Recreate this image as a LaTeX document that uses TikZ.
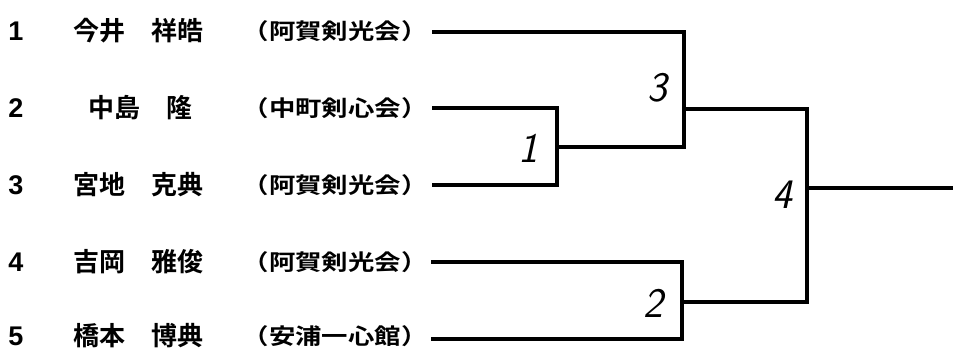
\documentclass[tikz,border=0pt]{standalone}
\usepackage{fontspec}
\setmainfont{Liberation Sans}
\newfontfamily\jpfont{Noto Sans CJK JP}[BoldFont={Noto Sans CJK JP Bold}]
\newfontfamily\clubfont{Noto Sans CJK JP}[BoldFont={Noto Sans CJK JP Bold},FakeStretch=1.2]
\tikzset{
  seed/.style={inner sep=1pt,font=\bfseries\fontsize{27}{27}\selectfont},
  player/.style={inner sep=1pt,font=\jpfont\bfseries\fontsize{26}{26}\selectfont},
  club/.style={inner sep=1pt,font=\clubfont\bfseries\fontsize{22}{22}\selectfont},
  bout/.style={font=\sffamily\itshape\fontsize{42}{42}\selectfont},
  wire/.style={line width=4.3pt}
}
\begin{document}
\begin{tikzpicture}[x=1pt,y=-1pt]
\useasboundingbox (0,0) rectangle (953,349);
% Entry numbers
\node[seed] (n1) at (16,31) {1};
\node[seed] (n2) at (16,108) {2};
\node[seed] (n3) at (16,185) {3};
\node[seed] (n4) at (16,262) {4};
\node[seed] (n5) at (16,336) {5};

% Player names
\node[player] (p1) at (138,31) {今井　祥皓};
\node[player] (p2) at (140,108) {中島　隆};
\node[player] (p3) at (138,185) {宮地　克典};
\node[player] (p4) at (138,262) {吉岡　雅俊};
\node[player] (p5) at (138,336) {橋本　博典};

% Clubs
\node[club] (c1) at (335,31) {（阿賀剣光会）};
\node[club] (c2) at (335,108) {（中町剣心会）};
\node[club] (c3) at (335,185) {（阿賀剣光会）};
\node[club] (c4) at (335,262) {（阿賀剣光会）};
\node[club] (c5) at (335,336) {（安浦一心館）};

% Line ends and bout junctions
\coordinate (e1) at (432,32);
\coordinate (e2) at (432,108);
\coordinate (e3) at (432,185);
\coordinate (e4) at (431,262);
\coordinate (e5) at (431,339);
\coordinate (j1) at (557,147);
\coordinate (j2) at (682,302);
\coordinate (j3) at (684,109);
\coordinate (j4) at (807,188);
\coordinate (win) at (953,188);

% Bracket
\draw[wire] (e2) -| (j1) |- (e3);
\draw[wire] (e4) -| (j2) |- (e5);
\draw[wire] (e1) -| (j3) |- (j1);
\draw[wire] (j3) -| (j4) |- (j2);
\draw[wire] (j4) -- (win);

% Bout numbers
\node[bout] (b1) at (528,148) {1};
\node[bout] (b2) at (653,303) {2};
\node[bout] (b3) at (657,88) {3};
\node[bout] (b4) at (782,195) {4};
\end{tikzpicture}
\end{document}
